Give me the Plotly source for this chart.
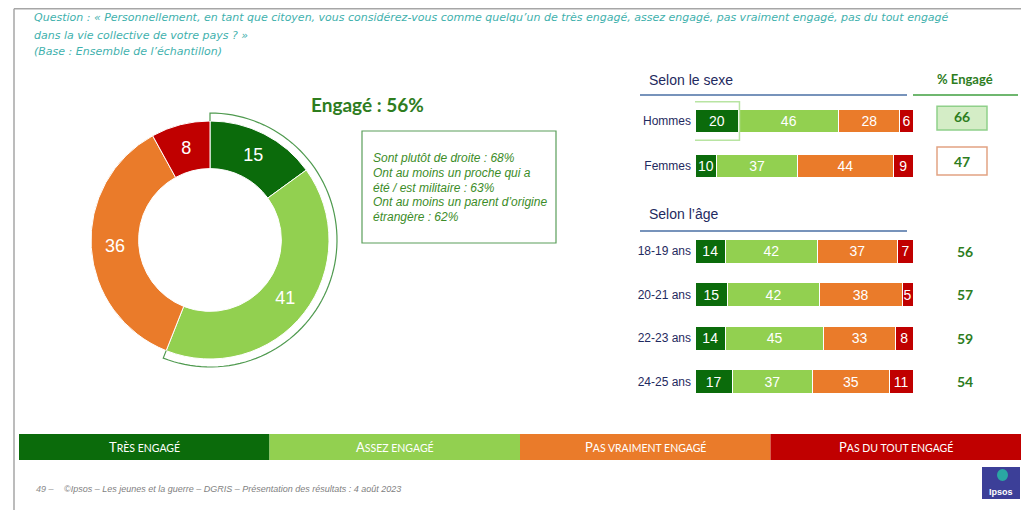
import math
import plotly.graph_objects as go

W, H = 1021, 510

# ---------------- data ----------------
levels = ["Très engagé", "Assez engagé", "Pas vraiment engagé", "Pas du tout engagé"]
level_colors = ["#0b6b0b", "#92d050", "#ea7b2a", "#c00000"]

overall = [15, 41, 36, 8]
engaged_overall = 56

sex_groups = ["Hommes", "Femmes"]
sex_tres = [20, 10]
sex_assez = [46, 37]
sex_pasvraiment = [28, 44]
sex_pasdutout = [6, 9]
sex_engaged = [66, 47]

age_groups = ["18-19 ans", "20-21 ans", "22-23 ans", "24-25 ans"]
age_tres = [14, 15, 14, 17]
age_assez = [42, 42, 45, 37]
age_pasvraiment = [37, 38, 33, 35]
age_pasdutout = [7, 5, 8, 11]
age_engaged = [56, 57, 59, 54]

question_l1 = ("Question : « Personnellement, en tant que citoyen, vous considérez-vous comme quelqu’un de "
               "très engagé, assez engagé, pas vraiment engagé, pas du tout engagé")
question_l2 = "dans la vie collective de votre pays ? »"
base_txt = "(Base : Ensemble de l’échantillon)"
profile_lines = ["Sont plutôt de droite : 68%",
                 "Ont au moins un proche qui a",
                 "été / est militaire : 63%",
                 "Ont au moins un parent d’origine",
                 "étrangère : 62%"]
footer_num = "49 –"
footer_txt = "©Ipsos – Les jeunes et la guerre – DGRIS – Présentation des résultats : 4 août 2023"


def px(x):
    return x / W


def py(y):
    return 1 - y / H


ARIAL = "Liberation Sans, Arial, sans-serif"
LATO = "Lato, Open Sans, sans-serif"
NAVY = "#1f2a60"
GREEN_TXT = "#2e7d1e"

fig = go.Figure()

# ---------------- donut ----------------
cx, cy, R = 210, 240, 119
fig.add_trace(go.Pie(
    values=overall, labels=levels, sort=False, direction="clockwise", rotation=0,
    hole=0.6, marker=dict(colors=level_colors, line=dict(color="white", width=1)),
    textinfo="value", textposition="inside", insidetextorientation="horizontal",
    textfont=dict(color="white", size=18, family=ARIAL),
    domain=dict(x=[px(cx - R), px(cx + R)], y=[py(cy + R), py(cy - R)]),
    showlegend=False, hoverinfo="skip"))

# ---------------- stacked bars ----------------
sex_series = [sex_tres, sex_assez, sex_pasvraiment, sex_pasdutout]
age_series = [age_tres, age_assez, age_pasvraiment, age_pasdutout]
for i, lvl in enumerate(levels):
    common = dict(orientation="h", name=lvl, marker=dict(color=level_colors[i], line=dict(color="white", width=1)),
                  textposition="inside", insidetextanchor="middle", textangle=0, constraintext="none",
                  textfont=dict(color="white", size=14, family=ARIAL), showlegend=False, hoverinfo="skip")
    fig.add_trace(go.Bar(y=sex_groups, x=sex_series[i], text=sex_series[i], width=0.53,
                         xaxis="x", yaxis="y", **common))
    fig.add_trace(go.Bar(y=age_groups, x=age_series[i], text=age_series[i], width=0.55,
                         xaxis="x2", yaxis="y2", **common))

bar_x0, bar_x1 = 695, 913
axis_common = dict(showgrid=False, zeroline=False, showline=False)
fig.update_layout(
    barmode="stack",
    xaxis=dict(domain=[px(bar_x0), px(bar_x1)], range=[0, 100], visible=False, **axis_common),
    xaxis2=dict(domain=[px(bar_x0), px(bar_x1)], range=[0, 100], visible=False, anchor="y2", **axis_common),
    yaxis=dict(domain=[py(188.5), py(98.5)], type="category", categoryarray=sex_groups,
               range=[1.5, -0.5], ticks="", ticklabelstandoff=3,
               tickfont=dict(size=12, color=NAVY, family=ARIAL), anchor="x", **axis_common),
    yaxis2=dict(domain=[py(403.5), py(229.5)], type="category", categoryarray=age_groups,
                range=[3.5, -0.5], ticks="", ticklabelstandoff=3,
                tickfont=dict(size=12, color=NAVY, family=ARIAL), anchor="x2", **axis_common),
)

shapes = []
annotations = []

# frame lines
shapes.append(dict(type="line", xref="paper", yref="paper", x0=px(14), x1=1, y0=py(8.7), y1=py(8.7),
                   line=dict(color="#a6a6a6", width=1.5)))
shapes.append(dict(type="line", xref="paper", yref="paper", x0=px(14), x1=px(14), y0=py(8.7), y1=0,
                   line=dict(color="#a6a6a6", width=1.5)))

# question text
for txt, yy in [(question_l1, 18), (question_l2, 36), (base_txt, 52)]:
    annotations.append(dict(text=f"<i>{txt}</i>", x=px(32), y=py(yy), xref="paper", yref="paper",
                            xanchor="left", yanchor="middle", showarrow=False,
                            font=dict(size=11, color="#3fb1ad", family="DejaVu Sans, sans-serif")))

# outline arc around "engagé" share
frac = (overall[0] + overall[1]) / sum(overall)
r_out, r_in = 127, R
n = 80
pts = [(cx, cy - r_in)]
for k in range(n + 1):
    a = 2 * math.pi * frac * k / n
    pts.append((cx + r_out * math.sin(a), cy - r_out * math.cos(a)))
a_end = 2 * math.pi * frac
pts.append((cx + r_in * math.sin(a_end), cy - r_in * math.cos(a_end)))
path = "M " + " L ".join(f"{px(x):.5f},{py(y):.5f}" for x, y in pts)
shapes.append(dict(type="path", xref="paper", yref="paper", path=path,
                   line=dict(color="#4f9a4f", width=1.2)))

# Engagé title
annotations.append(dict(text=f"<b>Engagé : {engaged_overall}%</b>", x=px(309), y=py(105), xref="paper",
                        yref="paper", xanchor="left", yanchor="middle", showarrow=False,
                        font=dict(size=19, color=GREEN_TXT, family=LATO)))
# profile box
shapes.append(dict(type="rect", xref="paper", yref="paper", x0=px(362), x1=px(556), y0=py(243), y1=py(131),
                   line=dict(color="#5a9e5a", width=1.2)))
for i, line in enumerate(profile_lines):
    annotations.append(dict(text=f"<i>{line}</i>", x=px(371), y=py(158 + i * 14.8), xref="paper", yref="paper",
                            xanchor="left", yanchor="middle", showarrow=False,
                            font=dict(size=12, color="#3c8c28", family=ARIAL)))

# section headers
for txt, yy, ly in [("Selon le sexe", 80, 95), ("Selon l’âge", 214, 231)]:
    annotations.append(dict(text=txt, x=px(647), y=py(yy), xref="paper", yref="paper",
                            xanchor="left", yanchor="middle", showarrow=False,
                            font=dict(size=14, color=NAVY, family=ARIAL)))
    shapes.append(dict(type="line", xref="paper", yref="paper", x0=px(640), x1=px(907), y0=py(ly), y1=py(ly),
                       line=dict(color="#4a6fa5", width=1.5)))
annotations.append(dict(text="<b>% Engagé</b>", x=px(965), y=py(79), xref="paper", yref="paper",
                        xanchor="center", yanchor="middle", showarrow=False,
                        font=dict(size=13, color=GREEN_TXT, family=LATO)))
shapes.append(dict(type="line", xref="paper", yref="paper", x0=px(913), x1=px(1018), y0=py(95), y1=py(95),
                   line=dict(color="#3f9f3f", width=1.5)))

# highlight boxes
shapes.append(dict(type="rect", xref="x", yref="y", x0=-0.4, x1=20.4, y0=-0.43, y1=0.43,
                   line=dict(color="#b8e4a2", width=1.5), layer="above"))
shapes.append(dict(type="rect", xref="paper", yref="y", x0=px(937), x1=px(987), y0=-0.33, y1=0.2,
                   fillcolor="#d4edc6", line=dict(color="#8fd08a", width=1.5), layer="below"))
shapes.append(dict(type="rect", xref="paper", yref="y", x0=px(937), x1=px(987), y0=0.58, y1=1.2,
                   fillcolor="white", line=dict(color="#e2a383", width=1.5), layer="below"))

# % engagé values
for g, v in zip(sex_groups, sex_engaged):
    annotations.append(dict(text=f"<b>{v}</b>", x=px(962), y=sex_groups.index(g) - 0.1, xref="paper", yref="y",
                            xanchor="center", yanchor="middle", showarrow=False,
                            font=dict(size=14, color=GREEN_TXT, family=LATO)))
for g, v in zip(age_groups, age_engaged):
    annotations.append(dict(text=f"<b>{v}</b>", x=px(965), y=g, xref="paper", yref="y2",
                            xanchor="center", yanchor="middle", showarrow=False,
                            font=dict(size=14, color=GREEN_TXT, family=LATO)))

# legend band
L0, L1 = 19, 1021
seg = (L1 - L0) / len(levels)
for i, (lvl, col) in enumerate(zip(levels, level_colors)):
    x0 = L0 + i * seg
    shapes.append(dict(type="rect", xref="paper", yref="paper", x0=px(x0), x1=px(x0 + seg),
                       y0=py(460), y1=py(434), fillcolor=col, line=dict(width=0)))
    up = lvl.upper()
    label = f"{up[0]}<span style='font-size:10.5px'>{up[1:]}</span>"
    annotations.append(dict(text=label, x=px(x0 + seg / 2), y=py(447), xref="paper", yref="paper",
                            xanchor="center", yanchor="middle", showarrow=False,
                            font=dict(size=13, color="white", family=LATO)))

# footer
annotations.append(dict(text=f"<i>{footer_num}</i>", x=px(34), y=py(489), xref="paper", yref="paper",
                        xanchor="left", yanchor="middle", showarrow=False,
                        font=dict(size=9, color="#8c8c8c", family=ARIAL)))
annotations.append(dict(text=f"<i>{footer_txt}</i>", x=px(62), y=py(489), xref="paper", yref="paper",
                        xanchor="left", yanchor="middle", showarrow=False,
                        font=dict(size=9, color="#7f7f7f", family=ARIAL)))

# Ipsos logo
shapes.append(dict(type="rect", xref="paper", yref="paper", x0=px(982), x1=px(1020), y0=py(499), y1=py(467),
                   fillcolor="#3c3f98", line=dict(width=0)))
shapes.append(dict(type="circle", xref="paper", yref="paper", x0=px(997), x1=px(1008), y0=py(481), y1=py(469),
                   fillcolor="#2aa7a3", line=dict(width=0)))
annotations.append(dict(text="<b>Ipsos</b>", x=px(1001), y=py(492), xref="paper", yref="paper",
                        xanchor="center", yanchor="middle", showarrow=False,
                        font=dict(size=9, color="white", family=ARIAL)))

fig.update_layout(
    width=W, height=H, margin=dict(l=0, r=0, t=0, b=0),
    paper_bgcolor="white", plot_bgcolor="rgba(0,0,0,0)",
    shapes=shapes, annotations=annotations, showlegend=False,
)

fig.write_html("out.html", config={"displayModeBar": False},
               post_script="document.body.style.margin='0';document.body.style.overflow='hidden';")
